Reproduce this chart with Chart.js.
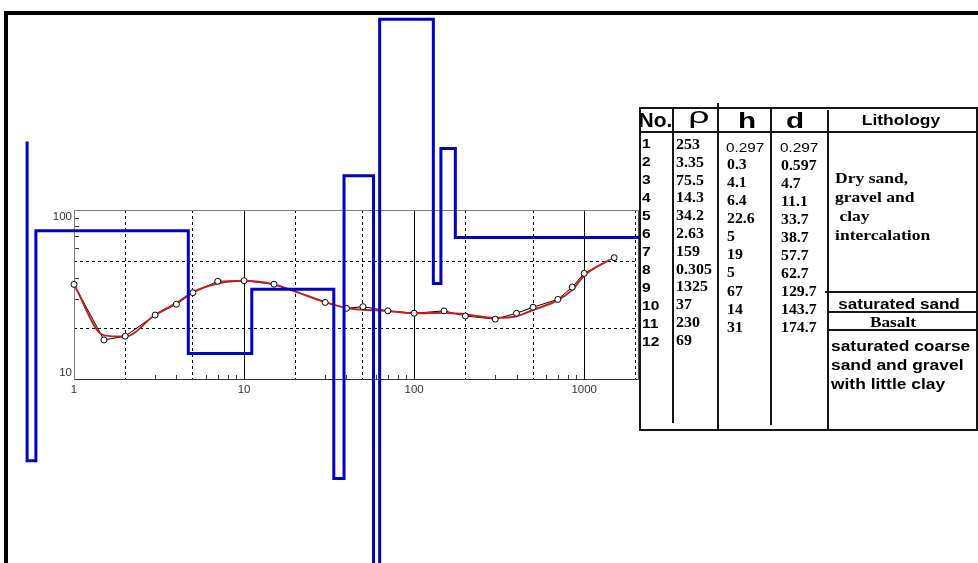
<!DOCTYPE html>
<html>
<head>
<meta charset="utf-8">
<title>VES sounding curve and layer model</title>
<script src="https://cdn.jsdelivr.net/npm/chart.js@4.4.1/dist/chart.umd.min.js"></script>
<style>
  html, body { margin: 0; padding: 0; background: #fff; }
  #wrap { position: relative; width: 978px; height: 563px; overflow: hidden; background: #fff; }
  #c { position: absolute; left: 0; top: 0; }
  .frame { position: absolute; left: 4px; top: 11px; width: 990px; height: 570px;
           border-top: 4px solid #000; border-left: 4px solid #000; box-sizing: border-box; }
  .ln { position: absolute; background: #161616; }
  .t { position: absolute; white-space: pre; color: #000; }
</style>
</head>
<body>
<div id="wrap">
  <canvas id="c" width="978" height="563"></canvas>
  <div class="frame"></div>
  <div id="tbl"></div>
</div>
<script>
// ---- sounding data: AB/2 (m) against apparent resistivity (ohm.m) ----
const fieldSpacing = [1, 1.5, 2, 3, 4, 5, 7, 10, 15, 30, 40, 50, 70, 100, 150, 200, 300, 400, 500, 700, 850, 1000, 1500];
const fieldRho     = [36.5, 17.2, 18.1, 24.1, 27.9, 32.6, 38.1, 38.4, 36.6, 28.6, 26.4, 27.0, 25.5, 24.7, 25.5, 23.8, 22.8, 24.7, 26.8, 29.8, 35.2, 42.4, 52.4];

// ---- calculated curve of the fitted model ----
const calcSpacing = [1, 1.5, 2, 3, 4, 5, 7, 10, 15, 20, 30, 40, 50, 70, 100, 150, 200, 300, 400, 500, 700, 850, 1000, 1400];
const calcRho     = [36.5, 18.3, 18.0, 24.2, 28.3, 32.9, 37.0, 38.3, 36.5, 33.2, 28.7, 26.5, 25.9, 25.5, 24.7, 24.9, 24.3, 23.2, 23.7, 25.8, 29.5, 33.9, 41.2, 50.8];

// ---- interpreted layers ----
const layerRho   = [253, 3.35, 75.5, 14.3, 34.2, 2.63, 159, 0.305, 1325, 37, 230, 69];
const layerH     = [0.297, 0.3, 4.1, 6.4, 22.6, 5, 19, 5, 67, 14, 31];
const layerDepth = [0.297, 0.597, 4.7, 11.1, 33.7, 38.7, 57.7, 62.7, 129.7, 143.7, 174.7];
const modelLeftEdge = 0.53;   // where the drawn model line begins on the depth axis

// ---- lithology column ----
const lithoUpper = ['Dry sand,', 'gravel and', ' clay', 'intercalation'];
const lithoSand = 'saturated sand';
const lithoBasalt = 'Basalt';
const lithoLower = ['saturated coarse', 'sand and gravel', 'with little clay'];

// ---- axes ----
const X_MIN = 1, X_MAX = 2100, Y_MIN = 10, Y_MAX = 100;
const xGridAt  = [1, 2, 5, 10, 20, 50, 100, 200, 500, 1000, 2000];
const xLabelAt = [1, 10, 100, 1000];
const xMinorAt = [3, 4, 6, 7, 8, 9, 30, 40, 60, 70, 80, 90, 300, 400, 600, 700, 800, 900];
const yGridAt  = [10, 20, 50, 100];
const yLabelAt = [10, 100];
const yMinorAt = [30, 40, 60, 70, 80, 90];

const isDecade = v => Math.abs(Math.log10(v) - Math.round(Math.log10(v))) < 1e-9;

// step line of the layered model: resistivity against depth
const modelPts = [{ x: modelLeftEdge, y: layerRho[0] }];
const edges = [modelLeftEdge, ...layerDepth.slice(1)];
edges.forEach((e, i) => {
  modelPts.push({ x: e, y: layerRho[i] }, { x: e, y: layerRho[i + 1] });
});
modelPts.push({ x: X_MAX, y: layerRho[layerRho.length - 1] });

const fieldPts = fieldSpacing.map((x, i) => ({ x, y: fieldRho[i] }));
const calcPts  = calcSpacing.map((x, i) => ({ x, y: calcRho[i] }));

// plot box, inward minor ticks
const axesFrame = {
  id: 'axesFrame',
  beforeDatasetsDraw(chart) {
    const { ctx, chartArea: a, scales: { x, y } } = chart;
    ctx.save();
    ctx.lineWidth = 1;
    ctx.strokeStyle = '#3a3a3a';
    ctx.beginPath();
    xMinorAt.forEach(v => {
      const px = Math.round(x.getPixelForValue(v)) + 0.5;
      ctx.moveTo(px, a.bottom); ctx.lineTo(px, a.bottom - 5);
    });
    yMinorAt.forEach(v => {
      const py = Math.round(y.getPixelForValue(v)) + 0.5;
      ctx.moveTo(a.left, py); ctx.lineTo(a.left + 5, py);
    });
    ctx.stroke();

    const L = Math.round(a.left) + 0.5, R = Math.round(a.right) - 0.5;
    const T = Math.round(a.top) + 0.5, B = Math.round(a.bottom) - 0.5;
    ctx.strokeStyle = '#808080';
    ctx.beginPath();
    ctx.moveTo(L, T); ctx.lineTo(R, T);
    ctx.moveTo(L, T); ctx.lineTo(L, B);
    ctx.stroke();
    ctx.strokeStyle = '#555';
    ctx.beginPath();
    ctx.moveTo(R, T); ctx.lineTo(R, B);
    ctx.stroke();
    ctx.strokeStyle = '#333';
    ctx.beginPath();
    ctx.moveTo(L, B); ctx.lineTo(R, B);
    ctx.stroke();
    ctx.restore();
  }
};

new Chart(document.getElementById('c'), {
  type: 'line',
  data: {
    datasets: [
      { label: 'Layer model', data: modelPts, borderColor: '#0000c8', borderWidth: 3,
        pointRadius: 0, tension: 0, clip: false, order: 0,
        borderJoinStyle: 'miter', borderCapStyle: 'butt' },
      { label: 'Field data', data: fieldPts, showLine: false, pointRadius: 3,
        pointBorderWidth: 1, pointBorderColor: '#000', pointBackgroundColor: '#fff',
        clip: false, order: 1 },
      { label: 'Calculated', data: calcPts, borderColor: '#c81e1e', borderWidth: 2,
        pointRadius: 0, cubicInterpolationMode: 'monotone', clip: false, order: 2 },
      { label: 'Field curve', data: fieldPts, borderColor: '#000', borderWidth: 1,
        pointRadius: 0, tension: 0, clip: false, order: 3 }
    ]
  },
  options: {
    responsive: false,
    animation: false,
    devicePixelRatio: 1,
    layout: { padding: { left: 0, top: 210, right: 339, bottom: 0 } },
    plugins: { legend: { display: false }, tooltip: { enabled: false } },
    scales: {
      x: {
        type: 'logarithmic', position: 'bottom', bounds: 'data',
        afterDataLimits: s => { s.min = X_MIN; s.max = X_MAX; },
        afterBuildTicks: s => { s.ticks = xGridAt.map(v => ({ value: v })); },
        afterFit: s => { s.height = 183; },
        grid: {
          drawTicks: false, lineWidth: 1,
          color: c => (c.tick && c.tick.value === X_MIN) ? 'rgba(0,0,0,0)' : '#000'
        },
        border: { display: false, dash: c => (c.tick && isDecade(c.tick.value)) ? [] : [3, 3] },
        ticks: {
          autoSkip: false, maxRotation: 0, minRotation: 0, padding: 3, color: '#333',
          font: { family: 'Liberation Sans', size: 11.5 },
          callback: v => xLabelAt.includes(v) ? String(v) : ''
        }
      },
      y: {
        type: 'logarithmic', position: 'left', bounds: 'data',
        afterDataLimits: s => { s.min = Y_MIN; s.max = Y_MAX; },
        afterBuildTicks: s => { s.ticks = yGridAt.map(v => ({ value: v })); },
        afterFit: s => { s.width = 74; },
        grid: {
          drawTicks: false, lineWidth: 1,
          color: c => (c.tick && (c.tick.value === Y_MIN || c.tick.value === Y_MAX)) ? 'rgba(0,0,0,0)' : '#000'
        },
        border: { display: false, dash: [3, 3] },
        ticks: {
          autoSkip: false, padding: 2, color: '#333',
          font: { family: 'Liberation Sans', size: 11.5 },
          callback: v => v === Y_MAX ? ['', String(v)] : (v === Y_MIN ? [String(v), ''] : '')
        }
      }
    }
  },
  plugins: [axesFrame]
});

// ---- layer table ----
const tbl = document.getElementById('tbl');
function rule(x, y, w, h) {
  const d = document.createElement('div');
  d.className = 'ln';
  Object.assign(d.style, { left: x + 'px', top: y + 'px', width: w + 'px', height: h + 'px' });
  tbl.appendChild(d);
}
function put(txt, x, y, font, sx, center) {
  const s = document.createElement('span');
  s.className = 't';
  s.textContent = txt;
  s.style.font = font;
  s.style.lineHeight = '1';
  s.style.left = x + 'px';
  s.style.top = y + 'px';
  s.style.transformOrigin = center ? '50% 50%' : '0 50%';
  s.style.transform = (center ? 'translate(-50%,-50%)' : 'translateY(-50%)') + ' scaleX(' + sx + ')';
  tbl.appendChild(s);
}

rule(639, 107, 339, 2);
rule(639, 429, 339, 2);
rule(639, 107, 2, 324);
rule(976, 107, 2, 324);
rule(639, 131, 339, 2);
rule(672, 107, 2, 316);
rule(717, 103, 2, 328);
rule(770, 107, 2, 318);
rule(827, 110, 2, 321);
rule(825, 291, 153, 2);
rule(827, 311, 151, 2);
rule(827, 329, 151, 2);

const SANS = '"Liberation Sans", Arial, sans-serif';
const SERIF = '"Liberation Serif", "Times New Roman", serif';

put('No.', 638.5, 119, 'bold 21px ' + SANS, 1, false);
put('\u03c1', 699, 116, '22px ' + SANS, 1.7, true);
put('h', 746.8, 121, 'bold 22px ' + SANS, 1.35, true);
put('d', 795.2, 121, 'bold 22px ' + SANS, 1.35, true);
put('Lithology', 901, 119, 'bold 15px ' + SANS, 1.16, true);

layerRho.forEach((r, i) => {
  put(String(i + 1), 642, 143.3 + 17.95 * i, 'bold 13px ' + SANS, 1.2, false);
  put(String(r), 676, 145 + 17.8 * i, 'bold 14px ' + SERIF, 1.14, false);
});
layerH.forEach((v, i) => {
  if (i === 0) put(String(v), 726, 146.7, '13px ' + SANS, 1.18, false);
  else put(String(v), 727, 165 + 18.08 * (i - 1), 'bold 14px ' + SERIF, 1.13, false);
});
layerDepth.forEach((v, i) => {
  if (i === 0) put(String(v), 779.5, 146.7, '13px ' + SANS, 1.18, false);
  else put(String(v), 780.5, 165.7 + 18 * (i - 1), 'bold 14px ' + SERIF, 1.13, false);
});

[178.3, 196.7, 215.7, 235].forEach((y, i) => put(lithoUpper[i], 834.5, y, 'bold 15px ' + SERIF, 1.17, false));
put(lithoSand, 899, 303.3, 'bold 15px ' + SANS, 1.14, true);
put(lithoBasalt, 893, 321.7, 'bold 15px ' + SERIF, 1.15, true);
[345, 364, 383.3].forEach((y, i) => put(lithoLower[i], 830.5, y, 'bold 15px ' + SANS, 1.16, false));
</script>
</body>
</html>
